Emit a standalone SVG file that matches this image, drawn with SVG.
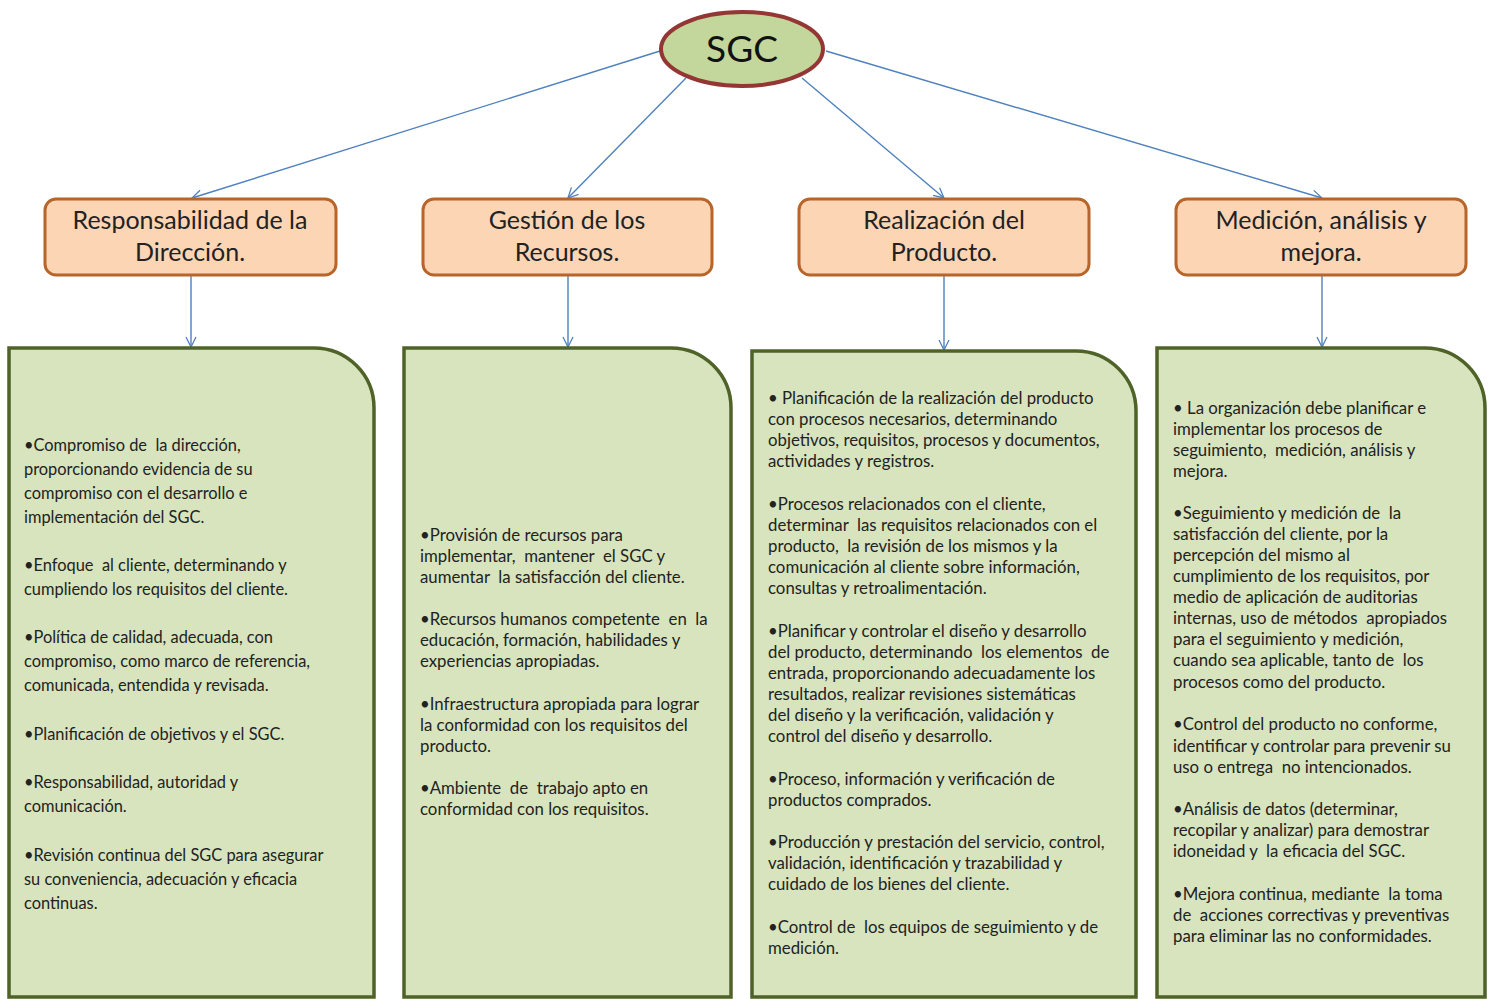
<svg xmlns="http://www.w3.org/2000/svg" width="1491" height="999" viewBox="0 0 1491 999">
<style>
.hdr{fill:#fcd5b5;stroke:#b7652a;stroke-width:3}
.grn{fill:#d7e4bd;stroke:#4f6228;stroke-width:3.5}
.ht{font-family:Lato,"Open Sans",sans-serif;font-size:25px;fill:#222;text-anchor:middle}
.bt{font-family:Lato,"Open Sans",sans-serif;font-size:16.8px;fill:#222;white-space:pre}
.b1{font-size:16.4px}
.cn{stroke:#4f81bd;stroke-width:1.4;fill:none;marker-end:url(#arr)}
</style>
<defs>
<marker id="arr" viewBox="0 0 12 12" refX="11" refY="6" markerWidth="12" markerHeight="12" markerUnits="userSpaceOnUse" orient="auto">
<path d="M1,1 L11,6 L1,11" fill="none" stroke="#4f81bd" stroke-width="1.3"/>
</marker>
</defs>
<rect width="1491" height="999" fill="#fff"/>
<g id="connectors">
<line class="cn" x1="660" y1="51" x2="192" y2="198"/>
<line class="cn" x1="686" y1="78" x2="568" y2="198"/>
<line class="cn" x1="802" y1="78" x2="944" y2="198"/>
<line class="cn" x1="826" y1="51" x2="1322" y2="198"/>
<line class="cn" x1="191" y1="276" x2="191" y2="347"/>
<line class="cn" x1="568" y1="276" x2="568" y2="347"/>
<line class="cn" x1="944" y1="276" x2="944" y2="350"/>
<line class="cn" x1="1322" y1="276" x2="1322" y2="347"/>
</g>
<g id="sgc">
<ellipse cx="742" cy="49" rx="81" ry="37" fill="#c3d69b" stroke="#943634" stroke-width="4"/>
<text x="742" y="62" font-family="Lato,'Open Sans',sans-serif" font-size="37" fill="#111" text-anchor="middle">SGC</text>
</g>
<g id="h1"><rect class="hdr" x="45" y="199" width="291" height="76" rx="11"/>
<text class="ht" x="190" y="229">Responsabilidad de la</text><text class="ht" x="190" y="261">Dirección.</text></g>
<g id="h2"><rect class="hdr" x="423" y="199" width="289" height="76" rx="11"/>
<text class="ht" x="567" y="229">Gestión de los</text><text class="ht" x="567" y="261">Recursos.</text></g>
<g id="h3"><rect class="hdr" x="799" y="199" width="290" height="76" rx="11"/>
<text class="ht" x="944" y="229">Realización del</text><text class="ht" x="944" y="261">Producto.</text></g>
<g id="h4"><rect class="hdr" x="1176" y="199" width="290" height="76" rx="11"/>
<text class="ht" x="1321" y="229">Medición, análisis y</text><text class="ht" x="1321" y="261">mejora.</text></g>
<g id="b1">
<path class="grn" d="M9,348 H314 A60,60 0 0 1 374,408 V997 H9 Z"/>
<text class="bt b1"><tspan x="24" y="451">•Compromiso de  la dirección,</tspan><tspan x="24" y="475">proporcionando evidencia de su</tspan><tspan x="24" y="499">compromiso con el desarrollo e</tspan><tspan x="24" y="523">implementación del SGC.</tspan><tspan x="24" y="571">•Enfoque  al cliente, determinando y</tspan><tspan x="24" y="595">cumpliendo los requisitos del cliente.</tspan><tspan x="24" y="643">•Política de calidad, adecuada, con</tspan><tspan x="24" y="667">compromiso, como marco de referencia,</tspan><tspan x="24" y="691">comunicada, entendida y revisada.</tspan><tspan x="24" y="740">•Planificación de objetivos y el SGC.</tspan><tspan x="24" y="788">•Responsabilidad, autoridad y</tspan><tspan x="24" y="812">comunicación.</tspan><tspan x="24" y="861">•Revisión continua del SGC para asegurar</tspan><tspan x="24" y="885">su conveniencia, adecuación y eficacia</tspan><tspan x="24" y="909">continuas.</tspan></text>
</g>
<g id="b2">
<path class="grn" d="M404,348 H671 A60,60 0 0 1 731,408 V997 H404 Z"/>
<text class="bt"><tspan x="420" y="541">•Provisión de recursos para</tspan><tspan x="420" y="562">implementar,  mantener  el SGC y</tspan><tspan x="420" y="583">aumentar  la satisfacción del cliente.</tspan><tspan x="420" y="625">•Recursos humanos competente  en  la</tspan><tspan x="420" y="646">educación, formación, habilidades y</tspan><tspan x="420" y="667">experiencias apropiadas.</tspan><tspan x="420" y="710">•Infraestructura apropiada para lograr</tspan><tspan x="420" y="731">la conformidad con los requisitos del</tspan><tspan x="420" y="752">producto.</tspan><tspan x="420" y="794">•Ambiente  de  trabajo apto en</tspan><tspan x="420" y="815">conformidad con los requisitos.</tspan></text>
</g>
<g id="b3">
<path class="grn" d="M752,351 H1076 A60,60 0 0 1 1136,411 V997 H752 Z"/>
<text class="bt"><tspan x="768" y="404">• Planificación de la realización del producto</tspan><tspan x="768" y="425">con procesos necesarios, determinando</tspan><tspan x="768" y="446">objetivos, requisitos, procesos y documentos,</tspan><tspan x="768" y="467">actividades y registros.</tspan><tspan x="768" y="510">•Procesos relacionados con el cliente,</tspan><tspan x="768" y="531">determinar  las requisitos relacionados con el</tspan><tspan x="768" y="552">producto,  la revisión de los mismos y la</tspan><tspan x="768" y="573">comunicación al cliente sobre información,</tspan><tspan x="768" y="594">consultas y retroalimentación.</tspan><tspan x="768" y="637">•Planificar y controlar el diseño y desarrollo</tspan><tspan x="768" y="658">del producto, determinando  los elementos  de</tspan><tspan x="768" y="679">entrada, proporcionando adecuadamente los</tspan><tspan x="768" y="700">resultados, realizar revisiones sistemáticas</tspan><tspan x="768" y="721">del diseño y la verificación, validación y</tspan><tspan x="768" y="742">control del diseño y desarrollo.</tspan><tspan x="768" y="785">•Proceso, información y verificación de</tspan><tspan x="768" y="806">productos comprados.</tspan><tspan x="768" y="848">•Producción y prestación del servicio, control,</tspan><tspan x="768" y="869">validación, identificación y trazabilidad y</tspan><tspan x="768" y="890">cuidado de los bienes del cliente.</tspan><tspan x="768" y="933">•Control de  los equipos de seguimiento y de</tspan><tspan x="768" y="954">medición.</tspan></text>
</g>
<g id="b4">
<path class="grn" d="M1157,348 H1425 A60,60 0 0 1 1485,408 V997 H1157 Z"/>
<text class="bt"><tspan x="1173" y="414">• La organización debe planificar e</tspan><tspan x="1173" y="435">implementar los procesos de</tspan><tspan x="1173" y="456">seguimiento,  medición, análisis y</tspan><tspan x="1173" y="477">mejora.</tspan><tspan x="1173" y="519">•Seguimiento y medición de  la</tspan><tspan x="1173" y="540">satisfacción del cliente, por la</tspan><tspan x="1173" y="561">percepción del mismo al</tspan><tspan x="1173" y="582">cumplimiento de los requisitos, por</tspan><tspan x="1173" y="603">medio de aplicación de auditorias</tspan><tspan x="1173" y="624">internas, uso de métodos  apropiados</tspan><tspan x="1173" y="645">para el seguimiento y medición,</tspan><tspan x="1173" y="666">cuando sea aplicable, tanto de  los</tspan><tspan x="1173" y="688">procesos como del producto.</tspan><tspan x="1173" y="730">•Control del producto no conforme,</tspan><tspan x="1173" y="752">identificar y controlar para prevenir su</tspan><tspan x="1173" y="773">uso o entrega  no intencionados.</tspan><tspan x="1173" y="815">•Análisis de datos (determinar,</tspan><tspan x="1173" y="836">recopilar y analizar) para demostrar</tspan><tspan x="1173" y="857">idoneidad y  la eficacia del SGC.</tspan><tspan x="1173" y="900">•Mejora continua, mediante  la toma</tspan><tspan x="1173" y="921">de  acciones correctivas y preventivas</tspan><tspan x="1173" y="942">para eliminar las no conformidades.</tspan></text>
</g>
</svg>
